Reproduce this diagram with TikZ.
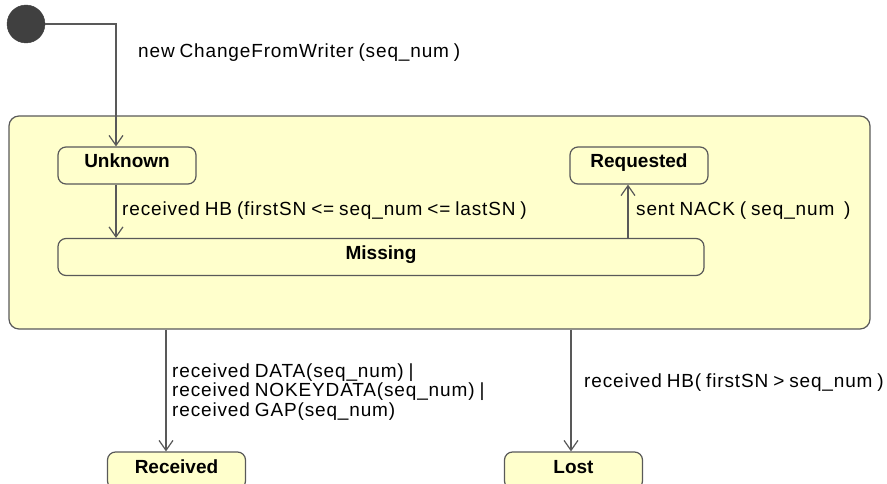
\documentclass[tikz,border=0pt]{standalone}
\usepackage{fontspec}
\setmainfont{Liberation Sans}
\newfontfamily\lblfont[LetterSpace=4.5,WordSpace=0.8]{Liberation Sans}
\usetikzlibrary{arrows.meta}

\definecolor{statefill}{HTML}{FFFFCC}
\definecolor{stateline}{HTML}{595959}
\definecolor{initfill}{HTML}{404040}

\begin{document}
\begin{tikzpicture}[x=1pt, y=-1pt,
    state/.style={draw=stateline, fill=statefill, line width=1.2pt, rounded corners=8pt,
        minimum width=138pt, minimum height=37pt, text height=14pt, text depth=9pt,
        inner sep=0pt, font=\fontsize{19}{20}\selectfont\bfseries},
    superstate/.style={draw=stateline, fill=statefill, line width=1.2pt, rounded corners=10pt,
        minimum width=861pt, minimum height=213pt, inner sep=0pt},
    trans/.style={draw=stateline, line width=1.2pt, -{Straight Barb[length=10pt,width=14pt,line width=1.2pt]}},
    lbl/.style={anchor=west, inner sep=0pt, align=left, font=\lblfont\fontsize{19}{19.5}\selectfont}]

    \useasboundingbox (0,0) rectangle (887,484);

    \node[superstate] (composite) at (439.5,222.5) {};

    \node[circle, fill=initfill, draw=initfill, minimum size=38pt, inner sep=0pt] (init) at (26,24) {};
    \coordinate (bend) at (116,24);

    \node[state] (unknown) at (127,165.5) {Unknown};
    \node[state] (requested) at (639,165.5) {Requested};
    \node[state, minimum width=646pt] (missing) at (381,257) {Missing};

    \node[state] (received) at (176.5,470.5) {Received};
    \node[state] (lost) at (573.5,470.5) {Lost};

    \coordinate (nack) at (628,211);
    \coordinate (gotx) at (166,400);
    \coordinate (lostx) at (571,400);

    \draw[trans] (init) -- (bend) -- (bend |- unknown.north);
    \draw[trans] (unknown.south -| bend) -- (missing.north -| bend);
    \draw[trans] (missing.north -| nack) -- (requested.south -| nack);
    \draw[trans] (composite.south -| gotx) -- (received.north -| gotx);
    \draw[trans] (composite.south -| lostx) -- (lost.north -| lostx);

    \node[lbl] (newlbl) at (138,53) {new ChangeFromWriter (seq\_num\ )};
    \node[lbl] (hblbl) at (122,211) {received HB (firstSN <= seq\_num <= lastSN )};
    \node[lbl] (nacklbl) at (636,211) {sent NACK ( seq\_num\ \ )};
    \node[lbl] (datalbl) at (172,392) {received DATA(seq\_num) |\\received NOKEYDATA(seq\_num) |\\received GAP(seq\_num)};
    \node[lbl] (lostlbl) at (584,383) {received HB( firstSN > seq\_num )};

\end{tikzpicture}
\end{document}
